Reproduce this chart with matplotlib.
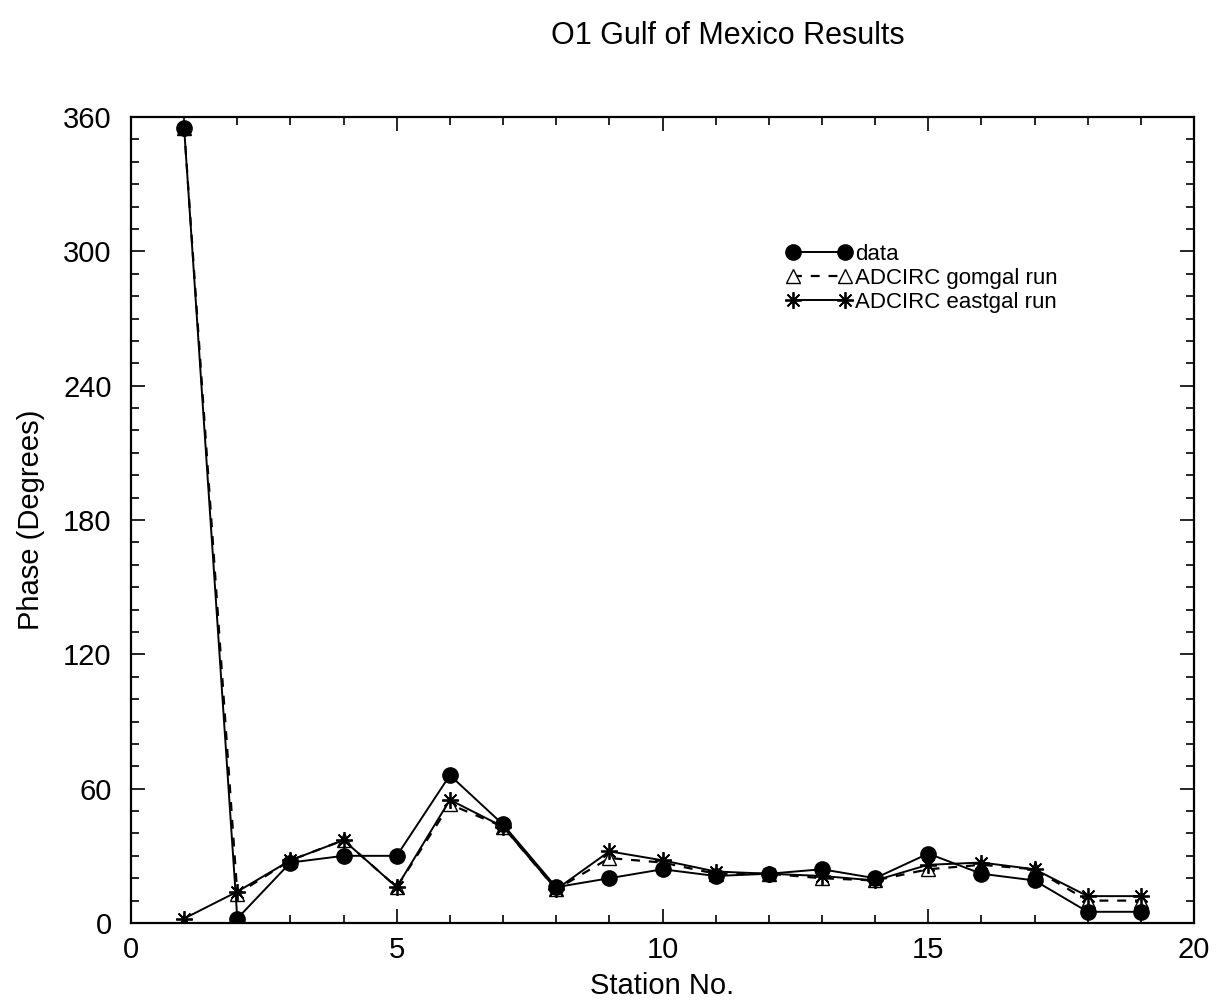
import matplotlib
matplotlib.use("Agg")
import matplotlib.pyplot as plt
from matplotlib.ticker import MultipleLocator

plt.rcParams['font.family'] = ['Liberation Sans', 'DejaVu Sans']

stations = list(range(1, 20))
data_phase = [355, 2, 27, 30, 30, 66, 44, 16, 20, 24, 21, 22, 24, 20, 31, 22, 19, 5, 5]
gomgal_phase = [355, 13, 28, 37, 16, 53, 43, 15, 29, 27, 22, 22, 20, 19, 24, 26, 24, 10, 10]
eastgal_phase = [2, 14, 28, 37, 16, 55, 43, 15, 32, 28, 23, 22, 21, 19, 26, 27, 24, 12, 12]

fig = plt.figure(figsize=(12.2, 10.06), dpi=100)
ax = fig.add_axes([131 / 1220, 1 - 923 / 1006, (1194 - 131) / 1220, (923 - 117) / 1006])

ax.plot(stations, data_phase, color='black', lw=1.4, marker='o', ms=11,
        mfc='black', mec='black', label='data', zorder=4)
ax.plot(stations, gomgal_phase, color='black', lw=1.6, ls=(0, (4, 4)), marker='^',
        ms=10, mfc='white', mec='black', mew=1.0, label='ADCIRC gomgal run', zorder=3)
ax.plot(stations, eastgal_phase, color='black', lw=1.4, marker=(8, 2, 0), ms=12,
        mec='black', mew=1.3, label='ADCIRC eastgal run', zorder=5)

ax.set_xlim(0, 20)
ax.set_ylim(0, 360)
ax.xaxis.set_major_locator(MultipleLocator(5))
ax.xaxis.set_minor_locator(MultipleLocator(1))
ax.yaxis.set_major_locator(MultipleLocator(60))
ax.yaxis.set_minor_locator(MultipleLocator(10))
ax.tick_params(which='both', direction='in', top=True, right=True, width=1.2,
               labelsize=21)
ax.tick_params(axis='x', pad=9)
ax.tick_params(axis='y', pad=14)
ax.tick_params(which='major', length=10)
ax.tick_params(which='minor', length=6)
for sp in ax.spines.values():
    sp.set_linewidth(1.6)

ax.set_xlabel('Station No.', fontsize=21, labelpad=6)
ax.set_ylabel('Phase (Degrees)', fontsize=21, labelpad=13)
fig.text(0.5964, 1 - 36 / 1006, 'O1 Gulf of Mexico Results', fontsize=22,
         ha='center', va='center')

leg = ax.legend(loc='upper left', bbox_to_anchor=(0.606, 0.856), frameon=False,
                fontsize=16, numpoints=2, handlelength=2.95, handletextpad=0.15,
                labelspacing=0.12, borderpad=0)

fig.savefig('out.png', dpi=100)
